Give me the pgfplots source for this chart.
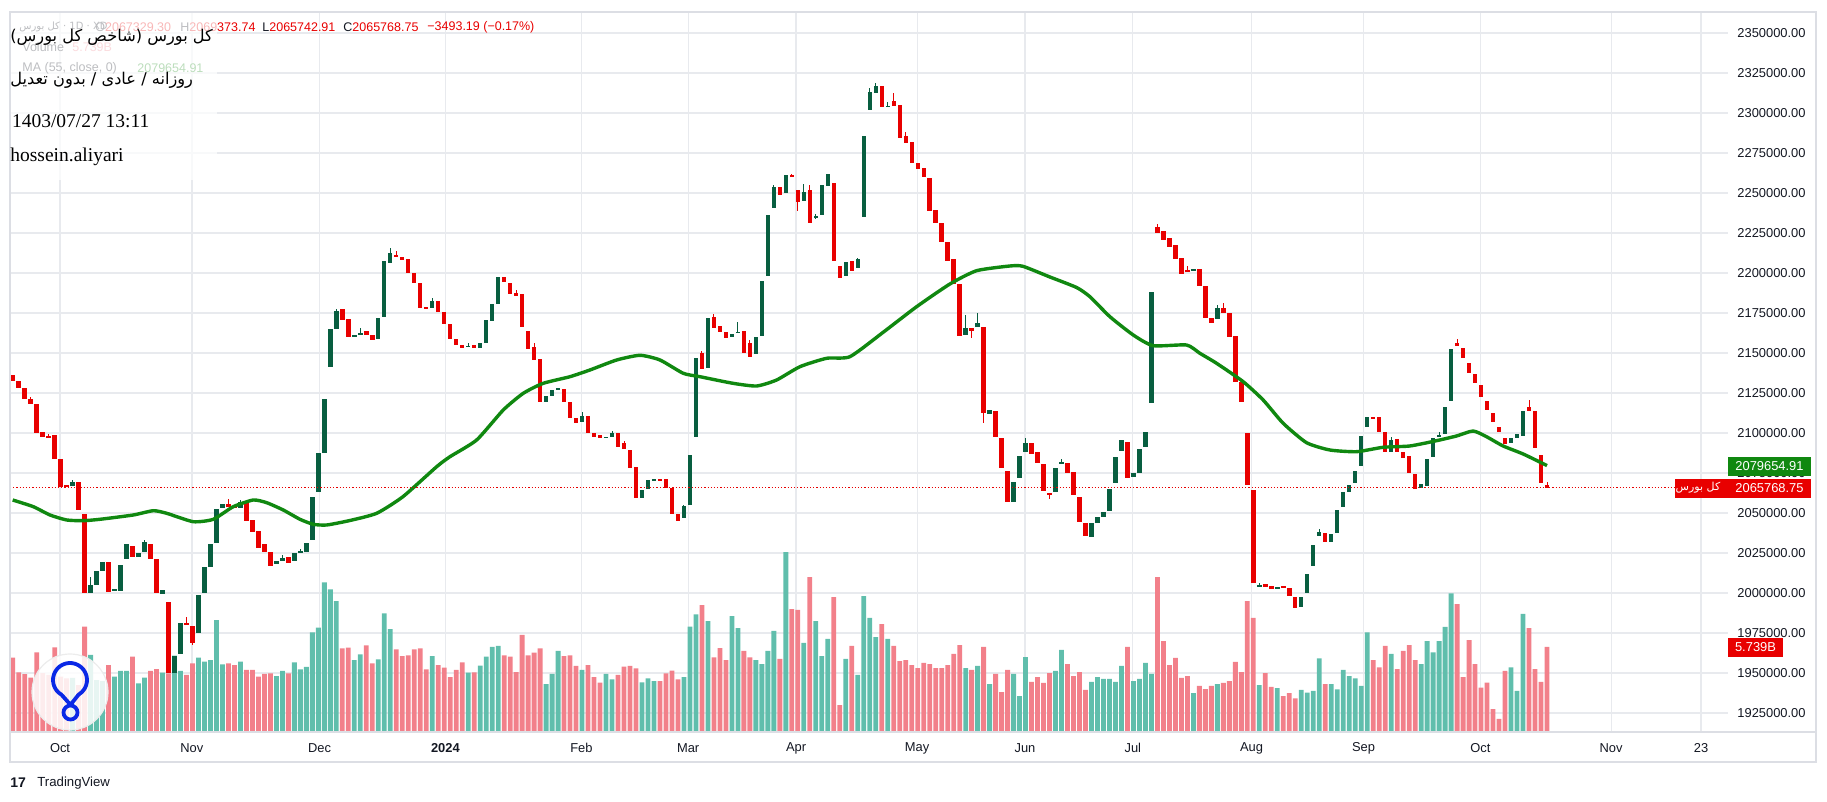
\documentclass[border=0pt]{standalone}
\usepackage{pgfplots}
\pgfplotsset{compat=1.18}
\usepackage{pgfplotstable}
\usepackage{fontspec}
\setmainfont{Liberation Sans}
\newfontfamily\seriffont{Liberation Serif}
\newfontfamily\arabicfont[Script=Arabic]{DejaVu Sans}
\TeXXeTstate=1
\definecolor{upc}{RGB}{8,94,64}
\definecolor{dnc}{RGB}{232,0,0}
\definecolor{vup}{RGB}{96,190,172}
\definecolor{vdn}{RGB}{242,128,138}
\definecolor{mac}{RGB}{16,136,16}
\definecolor{gridc}{RGB}{232,234,238}
\definecolor{framec}{RGB}{220,222,228}
\definecolor{txt}{RGB}{19,23,34}
\definecolor{logoblue}{RGB}{10,40,230}

\pgfplotstableread{
i o h l c v
0 2136250 2136250 2132500 2132500 5.02
1 2132500 2132500 2127938 2127938 4.03
2 2127938 2127938 2121063 2121063 3.90
3 2121063 2122500 2117938 2117938 3.67
4 2117938 2117938 2100188 2100188 5.38
5 2100813 2100813 2097313 2097313 3.98
6 2097813 2099375 2097313 2097313 3.85
7 2098750 2098750 2083938 2083938 5.72
8 2083750 2083750 2066438 2066438 3.73
9 2067500 2067500 2066875 2066875 3.62
10 2067063 2070625 2067063 2069563 3.65
11 2069188 2069188 2051875 2051875 3.17
12 2049375 2049375 2000188 2000188 7.11
13 1999813 2010188 1999813 2005000 5.20
14 2005000 2013750 2005000 2013750 3.51
15 2013938 2019563 2013938 2019563 3.44
16 2019563 2019563 2000813 2000813 4.52
17 2001438 2002313 2001438 2002313 3.73
18 2001438 2017500 2001438 2017500 4.12
19 2021438 2030625 2021438 2030625 4.12
20 2029375 2029375 2022688 2022688 5.08
21 2022688 2024813 2022688 2024813 3.29
22 2025813 2033125 2025813 2032063 3.67
23 2030625 2030625 2021250 2021250 4.12
24 2021250 2021250 1999813 1999813 4.25
25 1999188 2001875 1999188 2001875 4.00
26 1994188 1994188 1949813 1949813 3.96
27 1949813 1960625 1949813 1960625 5.15
28 1961688 1981063 1961688 1981063 4.12
29 1981438 1985188 1980000 1980000 3.85
30 1979563 1979563 1967500 1968563 4.64
31 1975188 1998750 1975188 1998750 5.02
32 1999813 2016063 1999813 2016063 4.75
33 2016438 2030625 2016438 2030625 4.86
34 2031063 2052313 2031063 2052313 7.56
35 2053313 2055625 2053313 2055625 4.57
36 2055625 2058563 2053938 2053938 4.64
37 2054563 2054563 2052938 2052938 4.52
38 2052938 2058125 2052938 2057063 4.75
39 2056063 2056063 2045188 2045188 4.19
40 2045625 2045625 2038313 2038313 4.19
41 2038750 2038750 2027938 2027938 3.73
42 2030438 2030438 2025438 2025438 3.92
43 2025438 2025438 2017063 2017063 3.96
44 2017938 2020000 2017938 2020000 3.78
45 2020000 2023750 2020000 2022063 4.12
46 2022313 2022313 2018938 2018938 3.96
47 2020000 2024813 2020000 2024813 4.70
48 2024813 2027500 2024813 2026438 4.23
49 2025813 2031438 2025813 2031438 4.39
50 2033125 2060188 2033125 2060188 6.73
51 2063313 2087688 2063313 2087688 7.04
52 2087688 2121250 2087688 2121250 10.10
53 2141438 2165000 2141438 2165000 9.63
54 2164813 2177313 2164813 2176438 8.84
55 2177313 2177313 2170625 2170625 5.65
56 2171063 2171063 2160188 2160188 5.69
57 2160188 2161063 2160188 2161063 4.86
58 2161063 2165438 2161063 2162688 5.24
59 2163750 2163750 2161250 2161250 5.85
60 2161063 2161063 2158125 2158125 4.64
61 2158563 2171875 2158563 2171875 4.91
62 2172688 2207313 2172688 2207313 8.01
63 2206438 2215438 2206438 2212313 6.95
64 2211250 2213563 2209813 2209813 5.58
65 2210188 2210188 2208125 2208125 5.13
66 2208563 2208563 2199813 2199813 5.18
67 2199813 2199813 2193938 2193938 5.58
68 2193938 2193938 2178313 2178313 5.65
69 2178938 2178938 2177313 2177313 4.23
70 2178313 2184188 2178313 2182500 5.13
71 2182500 2182500 2175813 2175813 4.52
72 2175813 2175813 2167938 2167938 4.34
73 2167938 2167938 2158563 2158563 3.71
74 2158938 2158938 2155000 2155000 4.19
75 2155000 2155000 2152938 2152938 4.70
76 2153938 2156250 2153938 2154563 4.00
77 2155000 2155000 2153313 2153313 4.03
78 2153313 2156063 2153313 2156063 4.48
79 2156438 2170625 2156438 2170625 5.08
80 2170188 2180625 2170188 2180625 5.74
81 2180625 2197313 2180625 2197313 5.81
82 2197688 2197688 2194563 2194563 5.18
83 2193938 2193938 2186688 2186688 5.08
84 2187688 2189375 2185625 2185625 4.05
85 2186875 2186875 2166438 2166438 6.55
86 2163750 2163750 2152688 2152688 5.18
87 2153938 2156250 2145625 2145625 5.35
88 2146063 2146063 2119563 2119563 5.65
89 2119563 2123313 2119563 2123313 3.24
90 2123313 2126875 2123313 2126875 3.92
91 2127313 2127688 2127313 2127688 5.47
92 2127313 2127313 2119563 2119563 5.13
93 2119563 2119563 2109563 2109563 5.18
94 2109563 2109563 2106063 2106063 4.46
95 2107063 2113313 2107063 2110625 4.19
96 2110813 2110813 2099813 2099813 4.52
97 2099813 2099813 2097688 2097688 3.71
98 2098750 2098750 2096688 2096688 3.33
99 2097063 2097688 2097063 2097688 3.92
100 2097688 2101563 2097688 2100188 3.56
101 2099813 2099813 2091438 2091438 3.85
102 2093563 2095000 2089813 2089813 4.41
103 2089375 2089375 2077938 2077938 4.46
104 2078563 2078563 2059563 2059563 4.30
105 2059563 2064375 2059563 2064375 3.35
106 2064813 2070625 2064813 2070625 3.62
107 2070625 2071250 2070625 2071250 3.44
108 2071250 2071250 2070625 2070625 3.44
109 2071063 2071063 2065438 2065438 3.96
110 2065438 2065438 2049188 2049188 4.14
111 2049188 2049188 2045188 2045188 3.56
112 2046688 2055000 2046688 2054375 3.71
113 2055000 2086250 2055000 2086250 7.11
114 2097313 2147063 2097313 2147063 7.94
115 2149813 2151563 2139813 2139813 8.57
116 2140438 2172063 2140438 2172063 7.49
117 2172688 2174375 2165438 2165438 5.04
118 2166875 2166875 2163313 2163313 5.67
119 2163313 2163313 2159563 2159563 4.86
120 2159813 2161688 2159813 2161688 7.83
121 2162688 2169563 2162688 2163313 7.02
122 2163750 2163750 2149813 2149813 5.47
123 2156063 2158125 2147688 2147688 5.04
124 2149188 2160188 2149188 2160188 4.86
125 2160625 2195000 2160625 2195000 4.59
126 2198125 2236250 2198125 2236250 5.47
127 2240438 2255000 2240438 2253938 6.82
128 2253938 2253938 2248750 2248750 4.93
129 2250188 2261250 2250188 2261250 12.15
130 2261250 2262188 2259813 2259813 8.30
131 2251875 2251875 2238938 2244563 8.24
132 2245188 2255625 2245188 2250438 6.01
133 2251875 2255000 2231063 2231063 10.46
134 2234813 2236875 2233750 2235625 7.49
135 2236250 2255000 2236250 2255000 5.13
136 2254375 2261875 2254375 2261875 6.28
137 2256063 2256063 2207688 2207688 9.11
138 2204375 2204375 2196688 2196688 1.82
139 2198313 2207063 2198313 2207063 4.93
140 2207500 2207500 2201438 2201438 5.81
141 2202938 2209375 2202938 2208563 3.85
142 2235188 2285625 2235188 2285625 9.18
143 2301875 2315625 2301875 2312938 7.70
144 2312313 2318563 2312313 2316875 6.41
145 2316875 2316875 2303563 2303563 7.29
146 2303938 2307063 2303938 2304375 6.28
147 2307688 2312313 2304563 2304563 5.81
148 2305000 2305000 2284563 2284563 4.79
149 2285625 2288313 2281063 2281063 4.86
150 2281688 2281688 2268563 2268563 4.52
151 2268563 2268563 2264813 2264813 4.32
152 2265813 2265813 2259813 2259813 4.66
153 2259563 2259563 2238938 2238938 4.59
154 2239375 2239375 2231063 2231063 4.32
155 2231063 2231063 2219188 2219188 4.32
156 2219188 2219188 2207688 2207688 4.52
157 2208750 2208750 2192938 2192938 5.27
158 2192938 2192938 2160813 2160813 5.87
159 2161250 2173750 2161250 2165813 4.32
160 2165813 2165813 2159188 2163938 4.19
161 2166438 2174813 2166438 2168563 4.46
162 2166438 2166438 2106438 2112313 5.74
163 2111688 2114375 2111688 2114375 3.24
164 2113938 2113938 2097688 2097688 3.92
165 2097063 2097063 2077938 2077938 2.70
166 2076250 2076250 2057063 2057063 4.19
167 2056688 2069188 2056688 2069188 3.92
168 2072063 2085625 2072063 2085625 2.43
169 2088313 2096688 2088313 2093563 5.06
170 2093563 2093563 2086875 2086875 3.38
171 2087938 2087938 2081438 2081438 3.71
172 2080625 2080625 2063938 2063938 3.31
173 2062313 2062313 2058563 2061688 3.98
174 2062938 2078313 2062938 2078313 4.12
175 2081063 2083563 2081063 2081438 5.54
176 2081063 2081063 2075188 2075188 4.59
177 2075438 2075438 2061250 2061250 3.78
178 2059813 2059813 2044563 2044563 4.05
179 2043563 2043563 2035813 2035813 2.84
180 2035188 2043563 2035188 2043563 3.38
181 2043938 2047313 2043938 2047313 3.71
182 2047313 2050813 2047313 2050813 3.58
183 2051250 2065000 2051250 2065000 3.58
184 2068938 2084813 2068938 2084813 3.38
185 2088938 2095625 2088938 2095625 4.46
186 2094188 2094188 2072063 2072063 5.74
187 2072688 2074813 2072688 2074813 3.44
188 2075188 2089813 2075188 2089813 3.58
189 2091438 2100438 2091438 2100438 4.66
190 2118563 2188313 2118563 2188313 3.92
191 2228938 2230438 2225188 2225188 10.46
192 2226250 2226250 2220625 2220625 6.14
193 2221688 2221688 2216438 2216438 4.52
194 2217500 2217500 2208750 2208750 5.00
195 2209188 2209188 2199375 2199375 3.65
196 2201875 2204375 2201250 2201250 3.78
197 2201250 2202500 2201250 2202500 2.63
198 2202313 2202313 2191875 2191875 3.11
199 2191875 2191875 2171688 2171688 2.90
200 2171688 2171688 2168563 2168563 3.11
201 2171063 2180000 2171063 2178313 3.24
202 2178313 2181438 2174813 2174813 3.31
203 2174813 2174813 2160188 2160188 3.44
204 2160625 2160625 2131688 2131688 4.73
205 2131688 2131688 2119563 2119563 4.05
206 2099813 2099813 2067500 2067500 8.84
207 2064375 2064375 2006063 2006063 7.70
208 2003938 2006250 2003938 2005000 3.17
209 2005438 2005438 2003938 2003938 3.98
210 2004563 2004563 2002313 2002313 3.04
211 2002313 2003938 2002313 2003938 2.97
212 2004563 2004563 2002938 2002938 2.43
213 2003313 2003313 1998125 1998125 2.63
214 1997688 1997688 1990438 1990438 2.27
215 1991063 1997688 1991063 1997688 2.84
216 2000188 2011875 2000188 2011875 2.65
217 2017063 2030000 2017063 2030000 2.77
218 2035813 2039813 2035813 2037938 4.97
219 2037313 2037313 2032063 2032063 3.24
220 2032063 2036688 2032063 2036688 3.24
221 2037688 2051875 2037688 2051875 2.88
222 2053938 2062938 2053938 2062938 4.19
223 2063313 2067500 2063313 2067500 3.78
224 2068938 2076250 2068938 2076250 3.62
225 2079563 2098125 2079563 2098125 3.11
226 2103938 2110188 2103938 2110188 6.73
227 2110188 2110188 2109188 2109188 4.86
228 2110188 2110188 2100813 2100813 4.37
229 2100438 2100438 2087938 2087938 5.81
230 2088313 2097313 2088313 2095625 5.27
231 2096250 2096250 2087938 2087938 4.25
232 2087938 2087938 2084188 2084188 5.47
233 2085625 2085625 2074813 2074813 5.87
234 2074375 2074375 2064813 2064813 4.86
235 2065438 2067938 2065438 2067938 4.59
236 2067063 2083563 2067063 2083563 6.14
237 2085188 2096688 2085188 2096688 5.38
238 2097313 2100438 2097313 2098750 6.14
239 2099188 2116063 2099188 2116063 7.09
240 2120000 2152313 2120000 2152313 9.36
241 2156438 2158563 2154375 2154375 8.64
242 2152938 2152938 2146688 2146688 3.71
243 2143563 2143563 2137688 2137688 6.21
244 2136688 2136688 2131063 2131063 4.59
245 2130000 2130000 2122688 2122688 2.99
246 2120000 2120000 2114375 2114375 3.33
247 2112313 2112313 2106688 2106688 1.55
248 2103938 2103938 2100813 2100813 0.88
249 2096688 2096688 2093125 2093125 4.12
250 2093563 2096688 2093563 2096688 4.37
251 2097063 2099188 2097063 2099188 2.77
252 2098125 2113750 2098125 2113750 7.97
253 2116063 2120625 2113750 2113750 7.02
254 2113750 2113750 2090438 2090438 4.25
255 2086250 2086250 2068563 2068563 3.38
256 2067329.30 2069373.74 2065742.91 2065768.75 5.739
}\ohlc

\pgfplotstableread{
i p
0 2058125
3.44 2053937
6.22 2048750
9.01 2045625
11.78 2045187
14.56 2046062
20.12 2048750
23.46 2051437
25.69 2049812
30.13 2044562
33.47 2046062
36.80 2053937
40.14 2058125
42.38 2056437
45.14 2051875
47.93 2046062
50.15 2042937
52.39 2042500
56.27 2045312
60.73 2049812
65.11 2060187
70.74 2078937
72.96 2085187
77.41 2095625
81.85 2114375
85.19 2124812
88.52 2131062
92.98 2135187
96.31 2139375
100.77 2145625
104.66 2148562
108.00 2145625
111.88 2137312
114.67 2135187
120.17 2131062
124.12 2129375
127.46 2133125
131.35 2141437
135.80 2146687
139.69 2147687
145.19 2162812
150.82 2178937
156.37 2193125
160.83 2201437
166.38 2204375
168.55 2204187
173.06 2197500
177.51 2190937
179.73 2185187
183.07 2172687
186.96 2161250
190.29 2154562
195.86 2155000
198.08 2149812
200.87 2143562
205.31 2132062
208.64 2120625
211.98 2106062
215.88 2093937
219.77 2089375
224.22 2088312
228.66 2091062
233.11 2091875
237.57 2095187
240.90 2098125
243.67 2101250
245.90 2097687
248.68 2091875
252.02 2086875
256 2079655
}\ma

\begin{document}
\begin{tikzpicture}
\path[use as bounding box] (0,0) rectangle (913.5pt,401pt);
\begin{axis}[
  at={(5pt,35pt)}, anchor=south west,
  scale only axis, width=859pt, height=360pt,
  xmin=-0.45, xmax=286.2,
  ymin=1913125, ymax=2363125,
  axis line style={draw=none},
  major tick length=0pt,
  grid=major, grid style={draw=gridc, line width=0.6pt},
  xtick={7.9,29.9,51.2,72.2,94.9,112.7,130.7,150.9,168.9,186.9,206.7,225.4,244.9,266.7,281.7},
  xticklabels={Oct,Nov,Dec,\textbf{2024},Feb,Mar,Apr,May,Jun,Jul,Aug,Sep,Oct,Nov,23},
  ytick={1925000,1950000,1975000,2000000,2025000,2050000,2075000,2100000,2125000,2150000,2175000,2200000,2225000,2250000,2275000,2300000,2325000,2350000},
  scaled y ticks=false,
  yticklabel pos=right,
  tick label style={font=\fontsize{6.45}{8}\selectfont, text=txt},
  yticklabel style={anchor=west, inner sep=0pt, xshift=4.5pt,
    /pgf/number format/.cd, fixed, fixed zerofill, precision=2, 1000 sep={}, assume math mode=true},
  xticklabel style={anchor=center, yshift=-8pt},
]
% volume
\addplot[ybar, bar width=2.4pt, bar shift=0pt, fill=vup, draw=none, forget plot]
  table[x=i, y expr=1913125+9257.4*\thisrow{v}, restrict expr to domain={\thisrow{c}-\thisrow{o}}{0:1000000}] {\ohlc};
\addplot[ybar, bar width=2.4pt, bar shift=0pt, fill=vdn, draw=none, forget plot]
  table[x=i, y expr=1913125+9257.4*\thisrow{v}, restrict expr to domain={\thisrow{c}-\thisrow{o}}{-1000000:-0.01}] {\ohlc};
% wicks
\addplot[draw=none, mark=none, forget plot, error bars/.cd, y dir=both, y explicit, error mark=none,
  error bar style={draw=upc, line width=0.5pt}]
  table[x=i, y expr=(\thisrow{h}+\thisrow{l})/2, y error expr=(\thisrow{h}-\thisrow{l})/2,
  restrict expr to domain={\thisrow{c}-\thisrow{o}}{0:1000000}] {\ohlc};
\addplot[draw=none, mark=none, forget plot, error bars/.cd, y dir=both, y explicit, error mark=none,
  error bar style={draw=dnc, line width=0.5pt}]
  table[x=i, y expr=(\thisrow{h}+\thisrow{l})/2, y error expr=(\thisrow{h}-\thisrow{l})/2,
  restrict expr to domain={\thisrow{c}-\thisrow{o}}{-1000000:-0.01}] {\ohlc};
% bodies
\addplot[draw=none, mark=none, forget plot, error bars/.cd, y dir=both, y explicit, error mark=none,
  error bar style={draw=upc, line width=2.2pt}]
  table[x=i, y expr=(\thisrow{o}+\thisrow{c})/2, y error expr={max(abs(\thisrow{c}-\thisrow{o})/2,320)},
  restrict expr to domain={\thisrow{c}-\thisrow{o}}{0:1000000}] {\ohlc};
\addplot[draw=none, mark=none, forget plot, error bars/.cd, y dir=both, y explicit, error mark=none,
  error bar style={draw=dnc, line width=2.2pt}]
  table[x=i, y expr=(\thisrow{o}+\thisrow{c})/2, y error expr={max(abs(\thisrow{c}-\thisrow{o})/2,320)},
  restrict expr to domain={\thisrow{c}-\thisrow{o}}{-1000000:-0.01}] {\ohlc};
% moving average
\addplot[mac, line width=1.7pt, smooth, tension=0.35, line join=round] table[x=i, y=p] {\ma};
% last price line
\draw[dnc, line width=0.6pt, dash pattern=on 0.6pt off 1pt] (axis cs:-1,2065768.75) -- (axis cs:300,2065768.75);
\end{axis}
% frame
\draw[framec, line width=1pt] (5pt,20pt) rectangle (908pt,395pt);
\draw[framec, line width=0.8pt] (5pt,35pt) -- (908pt,35pt);
% price labels
\fill[mac] (864pt,163pt) rectangle (905.5pt,172.5pt);
\node[text=white, font=\fontsize{6.45}{8}\selectfont, inner sep=0pt] at (884.75pt,167.75pt) {2079654.91};
\fill[dnc] (837.5pt,152pt) rectangle (905.5pt,161.5pt);
\node[text=white, font=\fontsize{6.45}{8}\selectfont, inner sep=0pt] at (884.75pt,156.75pt) {2065768.75};
\node[text=white, font=\fontsize{5.5}{7}\selectfont, inner sep=0pt] at (849pt,157pt) {\arabicfont\beginR کل بورس\endR};
\fill[dnc] (864pt,72.5pt) rectangle (891.5pt,82pt);
\node[text=white, font=\fontsize{6.45}{8}\selectfont, inner sep=0pt] at (877.75pt,77.25pt) {5.739B};
% legend (under watermark)
\begin{scope}[font=\fontsize{6.25}{8}\selectfont]
\node[anchor=west, inner sep=0pt, text=txt, font=\fontsize{5}{6}\selectfont] at (9.5pt,387.5pt) {\arabicfont\beginR کل بورس\endR{} · 1D · XD};
\node[anchor=west, inner sep=0pt, text=txt] at (47.5pt,387.5pt) {O\textcolor{dnc}{2067329.30}};
\node[anchor=west, inner sep=0pt, text=txt] at (90pt,387.5pt) {H\textcolor{dnc}{2069373.74}};
\node[anchor=west, inner sep=0pt, text=txt] at (131pt,387.5pt) {L\textcolor{dnc}{2065742.91}};
\node[anchor=west, inner sep=0pt, text=txt] at (171.5pt,387.5pt) {C\textcolor{dnc}{2065768.75}};
\node[anchor=west, inner sep=0pt, text=dnc] at (213.5pt,387.5pt) {−3493.19 (−0.17\%)};
\node[anchor=west, inner sep=0pt, text=txt] at (11pt,377.5pt) {Volume};
\node[anchor=west, inner sep=0pt, text=vdn] at (36pt,377.5pt) {5.739B};
\node[anchor=west, inner sep=0pt, text=txt] at (11pt,367pt) {MA (55, close, 0)};
\node[anchor=west, inner sep=0pt, text=mac] at (68.5pt,367pt) {2079654.91};
\end{scope}
% watermark
\fill[white, opacity=0.72] (5.5pt,311pt) rectangle (108.5pt,394.5pt);
\node[anchor=west, inner sep=0pt, font=\fontsize{8.1}{10}\selectfont] at (5pt,382.5pt) {\arabicfont\beginR کل بورس (شاخص کل بورس)\endR};
\node[anchor=west, inner sep=0pt, font=\fontsize{8.1}{10}\selectfont] at (5pt,361pt) {\arabicfont\beginR روزانه / عادی / بدون تعدیل\endR};
\node[anchor=west, inner sep=0pt, font=\fontsize{9.75}{11}\selectfont] at (5.8pt,340.5pt) {\seriffont 1403/07/27 13:11};
\node[anchor=west, inner sep=0pt, font=\fontsize{9.75}{11}\selectfont] at (5pt,322.5pt) {\seriffont hossein.aliyari};
% round logo
\fill[white, opacity=0.85] (35pt,55pt) circle (19pt);
\draw[gray!15, line width=0.6pt] (35pt,55pt) circle (19pt);
\draw[logoblue, line width=1.9pt, line join=round] (35.25pt,48.6pt) -- (30.75pt,53.64pt) arc[start angle=240, end angle=-60, radius=8.5pt] -- cycle;
\draw[logoblue, line width=1.9pt] (35.25pt,44.75pt) circle (3.5pt);
% TradingView mark
\node[anchor=west, inner sep=0pt, text=txt, font=\fontsize{7}{8}\selectfont\bfseries] at (5pt,9.5pt) {17};
\node[anchor=west, inner sep=0pt, text=txt, font=\fontsize{6.6}{8}\selectfont] at (18.5pt,9.5pt) {TradingView};
\end{tikzpicture}
\end{document}
